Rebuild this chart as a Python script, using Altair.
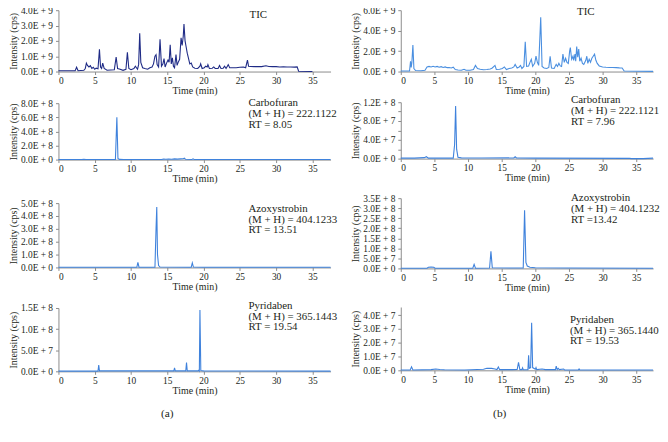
import altair as alt
import pandas as pd

FONT = "Liberation Serif"
TEXT = "#231f20"
AXIS = "#8c8c8c"
X_MAX = 37.5
TIME_TICKS = [0, 5, 10, 15, 20, 25, 30, 35]

# ---------------- data: (time in min, intensity in the stated unit) ----------------
# (a) TIC, x 1e9
tic_a = [(0, 0.05), (2.3, 0.05), (2.5, 0.28), (2.7, 0.05), (3.5, 0.08), (3.7, 0.2), (3.85, 0.55), (4.0, 0.4),
         (4.2, 0.3), (4.4, 0.38), (4.6, 0.2), (4.8, 0.28), (5.0, 0.15), (5.2, 0.22), (5.45, 0.18), (5.65, 1.45),
         (5.8, 0.3), (5.95, 0.2), (6.1, 0.55), (6.3, 0.2), (6.7, 0.08), (7.2, 0.1), (7.7, 0.12), (7.95, 0.95),
         (8.15, 0.2), (8.5, 0.15), (8.9, 0.08), (9.3, 0.15), (9.5, 1.25), (9.7, 0.2), (10.0, 0.12), (10.4, 0.2),
         (10.6, 0.35), (10.9, 0.15), (11.05, 0.45), (11.2, 2.5), (11.35, 0.6), (11.6, 0.25), (11.9, 0.2),
         (12.3, 0.15), (12.6, 0.25), (12.9, 0.3), (13.1, 0.5), (13.3, 1.0), (13.45, 1.1), (13.6, 0.45),
         (13.8, 0.3), (14.0, 2.1), (14.2, 0.35), (14.4, 0.5), (14.55, 0.85), (14.7, 0.3), (14.9, 0.55),
         (15.1, 0.75), (15.25, 0.6), (15.4, 1.75), (15.55, 0.5), (15.7, 0.9), (15.85, 0.35), (16.0, 0.25),
         (16.2, 1.1), (16.35, 0.4), (16.5, 0.6), (16.7, 0.8), (16.9, 2.2), (17.05, 1.7), (17.2, 2.3),
         (17.3, 3.1), (17.45, 2.0), (17.6, 1.6), (17.75, 1.2), (17.9, 0.9), (18.1, 0.5), (18.3, 0.55),
         (18.5, 0.3), (18.8, 0.22), (19.2, 0.2), (19.5, 0.35), (19.6, 0.5), (19.8, 0.2), (20.1, 0.25),
         (20.3, 0.35), (20.5, 0.3), (20.6, 0.45), (20.8, 0.2), (21.2, 0.22), (21.4, 0.3), (21.6, 0.2),
         (22.0, 0.2), (22.2, 0.4), (22.4, 0.2), (22.7, 0.22), (22.9, 0.35), (23.1, 0.2), (23.4, 0.45),
         (23.6, 0.25), (24.0, 0.25), (24.5, 0.25), (25.0, 0.28), (25.5, 0.3), (25.8, 0.25), (26.05, 0.75),
         (26.2, 0.35), (26.5, 0.33), (27.0, 0.32), (27.5, 0.33), (28.0, 0.32), (28.6, 0.38), (29.0, 0.33),
         (29.5, 0.32), (30.0, 0.32), (30.5, 0.3), (31.0, 0.31), (31.5, 0.3), (32.0, 0.3), (32.5, 0.29),
         (32.9, 0.3), (33.1, 0.02), (35.0, 0.0)]

# (b) TIC, x 1e9
tic_b = [(0, 0.05), (1.3, 0.05), (1.45, 1.0), (1.55, 0.4), (1.65, 0.9), (1.8, 2.6), (1.95, 0.3), (2.2, 0.1),
         (3.0, 0.08), (3.6, 0.12), (3.9, 0.45), (4.2, 0.5), (4.5, 0.45), (4.8, 0.52), (5.1, 0.45), (5.4, 0.5),
         (5.7, 0.42), (6.0, 0.48), (6.3, 0.4), (6.6, 0.45), (6.9, 0.38), (7.2, 0.4), (7.5, 0.35), (7.8, 0.42),
         (8.1, 0.2), (8.5, 0.15), (9.0, 0.12), (9.4, 0.22), (9.7, 0.12), (10.3, 0.12), (10.8, 0.2), (11.1, 0.6),
         (11.4, 0.3), (11.8, 0.22), (12.3, 0.18), (12.8, 0.2), (13.3, 0.25), (13.6, 0.35), (14.0, 0.6),
         (14.2, 0.2), (14.7, 0.22), (15.1, 0.3), (15.4, 0.45), (15.7, 0.2), (16.1, 0.3), (16.5, 0.35),
         (16.8, 0.45), (17.0, 0.7), (17.3, 0.35), (17.6, 0.45), (17.8, 0.6), (18.0, 0.3), (18.3, 0.5),
         (18.5, 2.9), (18.7, 0.5), (19.0, 0.55), (19.2, 0.9), (19.4, 1.2), (19.6, 0.5), (19.9, 0.8),
         (20.1, 1.5), (20.3, 0.9), (20.5, 0.6), (20.8, 5.3), (21.0, 0.5), (21.3, 0.35), (21.7, 0.3),
         (22.0, 0.4), (22.2, 1.5), (22.4, 0.35), (22.8, 0.3), (23.1, 0.7), (23.3, 0.5), (23.5, 0.8),
         (23.7, 0.55), (23.9, 0.5), (24.1, 1.7), (24.3, 0.9), (24.5, 1.3), (24.7, 0.9), (24.9, 0.8),
         (25.1, 2.0), (25.2, 2.35), (25.4, 1.2), (25.6, 1.5), (25.7, 1.1), (25.9, 1.7), (26.0, 1.0),
         (26.15, 2.45), (26.3, 1.4), (26.45, 2.2), (26.6, 1.0), (26.8, 1.3), (27.0, 0.8), (27.2, 0.7),
         (27.5, 1.1), (27.65, 1.5), (27.8, 0.8), (28.0, 1.2), (28.2, 0.9), (28.4, 1.3), (28.6, 1.5),
         (28.8, 1.7), (29.0, 1.1), (29.2, 0.8), (29.5, 0.55), (30.0, 0.45), (30.5, 0.42), (31.0, 0.4),
         (31.5, 0.4), (32.0, 0.38), (32.5, 0.36), (32.9, 0.35), (33.2, 0.05), (37.5, 0.02)]

# Carbofuran, x 1e8
carb_a = [(0, 0.01), (3.2, 0.01), (3.5, 0.04), (3.8, 0.01), (7.85, 0.01), (8.05, 6.0), (8.2, 0.15),
          (8.4, 0.03), (9.0, 0.01), (14.2, 0.02), (14.5, 0.07), (14.8, 0.05), (15.2, 0.09), (15.6, 0.06),
          (16.0, 0.1), (16.4, 0.07), (16.8, 0.1), (17.2, 0.12), (17.35, 0.2), (17.5, 0.05), (18.4, 0.02),
          (18.55, 0.1), (18.7, 0.02), (20.0, 0.01), (37.5, 0.01)]
carb_b = [(0, 0.01), (2.0, 0.01), (3.5, 0.02), (3.8, 0.04), (4.1, 0.01), (7.8, 0.01), (8.0, 0.3),
          (8.15, 1.12), (8.3, 0.2), (8.5, 0.03), (9.0, 0.015), (12.0, 0.012), (16.8, 0.015), (17.0, 0.04),
          (17.2, 0.015), (20.0, 0.01), (34.0, 0.005), (34.3, 0.0), (36.0, 0.0), (37.5, 0.01)]

# Azoxystrobin, x 1e8
azo_a = [(0, 0.01), (10.8, 0.01), (10.95, 0.4), (11.1, 0.02), (13.3, 0.02), (13.45, 3.0), (13.55, 4.7),
         (13.65, 1.0), (13.8, 0.15), (14.0, 0.03), (18.3, 0.02), (18.45, 0.35), (18.6, 0.03), (20.0, 0.01),
         (33.0, 0.01), (37.5, 0.01)]
azo_b = [(0, 0.01), (3.9, 0.01), (4.1, 0.06), (4.5, 0.07), (4.9, 0.06), (5.1, 0.01), (10.7, 0.01),
         (10.9, 0.2), (11.1, 0.01), (13.2, 0.02), (13.4, 0.85), (13.6, 0.03), (18.2, 0.02), (18.4, 2.9),
         (18.6, 0.3), (18.8, 0.12), (19.2, 0.06), (20.0, 0.03), (25.0, 0.02), (37.5, 0.01)]

# Pyridaben, (a) x 1e8, (b) x 1e7
pyr_a = [(0, 0.005), (5.45, 0.005), (5.55, 0.15), (5.65, 0.01), (15.9, 0.01), (16.0, 0.08), (16.1, 0.01),
         (17.55, 0.01), (17.65, 0.21), (17.75, 0.01), (19.25, 0.01), (19.35, 0.03), (19.42, 0.01),
         (19.5, 1.45), (19.62, 0.02), (20.0, 0.01), (37.5, 0.005)]
pyr_b = [(0, 0.02), (1.4, 0.02), (1.6, 0.25), (1.8, 0.03), (4.5, 0.05), (5.2, 0.1), (5.8, 0.06),
         (6.5, 0.04), (9.5, 0.03), (12.3, 0.08), (12.8, 0.15), (13.5, 0.14), (14.0, 0.1), (14.3, 0.06),
         (14.5, 0.25), (14.7, 0.05), (16.5, 0.05), (17.3, 0.06), (17.5, 0.58), (17.7, 0.05), (18.0, 0.05),
         (18.1, 0.18), (18.2, 0.04), (18.9, 0.05), (19.0, 1.1), (19.1, 0.15), (19.3, 0.2), (19.45, 3.45),
         (19.6, 0.2), (20.0, 0.08), (20.1, 0.2), (20.2, 0.05), (21.0, 0.1), (21.5, 0.05), (23.0, 0.05),
         (23.1, 0.3), (23.25, 0.06), (23.4, 0.15), (23.55, 0.05), (24.2, 0.1), (24.35, 0.03), (26.4, 0.03),
         (26.5, 0.1), (26.6, 0.03), (37.5, 0.02)]

# y axis ticks
ticks_tic_a = [0, 1e9, 2e9, 3e9, 4e9]
ticks_tic_b = [0, 2e9, 4e9, 6e9]
ticks_carb_a = [0, 2e8, 4e8, 6e8, 8e8]
ticks_carb_b = [0, 2e7, 4e7, 6e7, 8e7, 1e8, 1.2e8]
ticks_azo_a = [0, 1e8, 2e8, 3e8, 4e8, 5e8]
ticks_azo_b = [0, 5e7, 1e8, 1.5e8, 2e8, 2.5e8, 3e8, 3.5e8]
ticks_pyr_a = [0, 5e7, 1e8, 1.5e8]
ticks_pyr_b = [0, 1e7, 2e7, 3e7, 4e7]

# annotations
notes_a = [["TIC"],
           ["Carbofuran", "(M + H) = 222.1122", "RT = 8.05"],
           ["Azoxystrobin", "(M + H) = 404.1233", "RT = 13.51"],
           ["Pyridaben", "(M + H) = 365.1443", "RT = 19.54"]]
notes_b = [["TIC"],
           ["Carbofuran", "(M + H) = 222.1121", "RT = 7.96"],
           ["Azoxystrobin", "(M + H) = 404.1232", "RT =13.42"],
           ["Pyridaben", "(M + H) = 365.1440", "RT = 19.53"]]
captions = ["(a)", "(b)"]

LABEL_EXPR = "replace(upper(format(datum.value, '.1e')), 'E+', 'E + ')"


def panel(points, unit, ymax, yticks, color, width, height, note, note_x, note_y, note_align="left"):
    df = pd.DataFrame(points, columns=["t", "v"])
    df["v"] = df["v"] * unit
    x = alt.X("t:Q", scale=alt.Scale(domain=[0, X_MAX], nice=False, zero=False),
              axis=alt.Axis(values=TIME_TICKS, format="d", title="Time (min)", tickSize=3,
                            labelPadding=1, titlePadding=1, domainColor=AXIS, tickColor=AXIS))
    y = alt.Y("v:Q", scale=alt.Scale(domain=[0, ymax], nice=False, zero=True),
              axis=alt.Axis(values=yticks, labelExpr=LABEL_EXPR, title="Intensity (cps)",
                            titlePadding=2, tickSize=3, labelPadding=3,
                            domainColor=AXIS, tickColor=AXIS))
    line = alt.Chart(df).mark_line(color=color, strokeWidth=1.1).encode(x=x, y=y)
    ndf = pd.DataFrame({"s": ["\n".join(note)]})
    txt = alt.Chart(ndf).mark_text(align=note_align, baseline="top", lineBreak="\n", lineHeight=10.8,
                                   font=FONT, fontSize=11, color=TEXT).encode(
        x=alt.value(note_x), y=alt.value(note_y), text="s:N")
    return alt.layer(line, txt).properties(width=width, height=height)


def spacer(h, w):
    return alt.Chart(pd.DataFrame({"s": [""]})).mark_text().encode(
        x=alt.value(0), y=alt.value(0), text="s:N").properties(width=w, height=h)


def caption(s, w, x):
    return alt.Chart(pd.DataFrame({"s": [s]})).mark_text(
        font=FONT, fontSize=11.5, color=TEXT, align="center", baseline="middle").encode(
        x=alt.value(x), y=alt.value(5), text="s:N").properties(width=w, height=10)


DARK = "#1f2b86"
BLUE = "#3f82dc"
BLUE_B = "#4a8fe0"
WA, WB = 275, 255

left = alt.vconcat(
    panel(tic_a, 1e9, 4e9, ticks_tic_a, DARK, WA, 62, notes_a[0], 202, -1, "center"),
    spacer(32, WA),
    panel(carb_a, 1e8, 8e8, ticks_carb_a, BLUE, WA, 57, notes_a[1], 192, -6),
    spacer(44, WA),
    panel(azo_a, 1e8, 5e8, ticks_azo_a, BLUE, WA, 65, notes_a[2], 192, 0),
    spacer(41, WA),
    panel(pyr_a, 1e8, 1.5e8, ticks_pyr_a, BLUE, WA, 64, notes_a[3], 192, -8),
    spacer(38, WA),
    caption(captions[0], WA, 110),
    spacing=0, bounds="flush",
)

right = alt.vconcat(
    panel(tic_b, 1e9, 6e9, ticks_tic_b, BLUE_B, WB, 62, notes_b[0], 187, -4, "center"),
    spacer(31, WB),
    panel(carb_b, 1e8, 1.2e8, ticks_carb_b, BLUE, WB, 57, notes_b[1], 172, -8),
    spacer(40, WB),
    panel(azo_b, 1e8, 3.5e8, ticks_azo_b, BLUE, WB, 71, notes_b[2], 172, -6),
    spacer(39, WB),
    panel(pyr_b, 1e7, 4.6e7, ticks_pyr_b, BLUE, WB, 64, notes_b[3], 171, 7),
    spacer(39, WB),
    caption(captions[1], WB, 100),
    spacing=0, bounds="flush",
)

chart = alt.hconcat(left, right, spacing=13).properties(
    padding={"left": 0, "top": -5, "right": 0, "bottom": 0},
    background="white",
).configure_view(stroke=None).configure_axis(
    labelFont=FONT, titleFont=FONT, labelFontSize=9.5, titleFontSize=10,
    labelColor=TEXT, titleColor=TEXT, titleFontWeight="normal", grid=False,
)

chart.save("out.html", embed_options={"renderer": "svg", "actions": False})
